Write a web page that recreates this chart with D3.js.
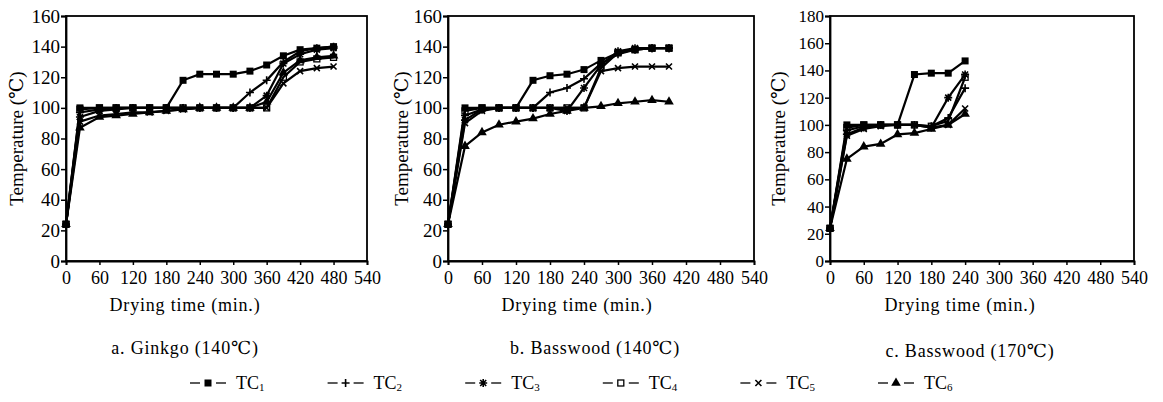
<!DOCTYPE html>
<html>
<head>
<meta charset="utf-8">
<script src="https://d3js.org/d3.v7.min.js"></script>
<style>
  body { margin: 0; background: #fff; }
  svg text { font-family: "Liberation Serif", "DejaVu Serif", serif; fill: #000; }
</style>
</head>
<body>
<script>
// drying times (min.) for each panel
var timesA = [0, 25, 60, 90, 120, 150, 180, 210, 240, 270, 300, 330, 360, 390, 420, 450, 480];
var timesB = [0, 30, 60, 90, 120, 150, 180, 210, 240, 270, 300, 330, 360, 390];
var timesC = [0, 30, 60, 90, 120, 150, 180, 210, 240];

var seriesNames = ["TC1", "TC2", "TC3", "TC4", "TC5", "TC6"];
var seriesMarks = ["square", "plus", "star", "open", "cross", "triangle"];

// temperatures, one row per thermocouple TC1..TC6
var ginkgo140 = [
  [24, 100, 100, 100, 100, 100, 100, 118, 122, 122, 122, 124, 128, 134, 138, 139, 140],
  [24, 97, 99, 100, 100, 100, 100, 100, 100, 100, 100, 110, 118, 130, 137, 139, 140],
  [24, 94, 98, 99, 100, 100, 100, 100, 100, 100, 100, 100, 108, 129, 135, 138, 139],
  [24, 99, 100, 100, 100, 100, 100, 100, 100, 100, 100, 100, 100, 120, 130, 132, 133],
  [24, 91, 95, 96, 97, 97, 98, 99, 100, 100, 100, 100, 100, 116, 124, 126, 127],
  [24, 87, 94, 95, 96, 97, 98, 99, 100, 100, 100, 100, 104, 123, 131, 133, 134]
];
var basswood140 = [
  [24, 100, 100, 100, 100, 118, 121, 122, 125, 131, 136, 138, 139, 139],
  [24, 95, 99, 100, 100, 100, 110, 113, 119, 129, 135, 138, 139, 139],
  [24, 92, 99, 100, 100, 100, 100, 98, 113, 128, 137, 139, 139, 139],
  [24, 98, 100, 100, 100, 100, 100, 100, 100, 126, 136, 138, 139, 139],
  [24, 90, 98, 100, 100, 100, 100, 100, 100, 124, 126, 127, 127, 127],
  [24, 75, 84, 89, 91, 93, 96, 98, 100, 101, 103, 104, 105, 104]
];
var basswood170 = [
  [24, 100, 100, 100, 100, 137, 138, 138, 147],
  [24, 96, 99, 100, 100, 100, 99, 105, 127],
  [24, 93, 98, 100, 100, 100, 98, 120, 137],
  [24, 98, 100, 100, 100, 100, 99, 103, 135],
  [24, 92, 97, 99, 100, 100, 98, 100, 112],
  [24, 75, 84, 86, 93, 94, 97, 100, 108]
];

var xTicks = [0, 60, 120, 180, 240, 300, 360, 420, 480, 540];
var yTicks160 = [0, 20, 40, 60, 80, 100, 120, 140, 160];
var yTicks180 = [0, 20, 40, 60, 80, 100, 120, 140, 160, 180];

var captions = ["a. Ginkgo (140\u2103)", "b. Basswood (140\u2103)", "c. Basswood (170\u2103)"];

var panels = [
  { left: 66, width: 301, times: timesA, temps: ginkgo140, yMax: 160, yTicks: yTicks160, yFont: 19, labX: 16, capX: 185, capY: 354, dtX: 185 },
  { left: 448, width: 306, times: timesB, temps: basswood140, yMax: 160, yTicks: yTicks160, yFont: 19, labX: 401, capX: 595, capY: 354, dtX: 577 },
  { left: 830, width: 304, times: timesC, temps: basswood170, yMax: 180, yTicks: yTicks180, yFont: 17, labX: 778, capX: 970, capY: 357, dtX: 960 }
];

var plotTop = 16, plotBottom = 261;

var svg = d3.select("body").append("svg")
  .attr("width", 1163)
  .attr("height", 402);

function marker(g, kind, x, y) {
  var m = g.append("g").attr("transform", "translate(" + x + "," + y + ")");
  var s = 3.5;
  if (kind == "square") {
    m.append("rect").attr("x", -s).attr("y", -s).attr("width", 2 * s).attr("height", 2 * s).attr("fill", "#000");
  } else if (kind == "open") {
    m.append("rect").attr("x", -s + 0.5).attr("y", -s + 0.5).attr("width", 2 * s - 1).attr("height", 2 * s - 1)
      .attr("fill", "none").attr("stroke", "#000").attr("stroke-width", 1.3);
  } else if (kind == "triangle") {
    m.append("path").attr("d", d3.symbol(d3.symbolTriangle, 40)()).attr("fill", "#000");
  } else {
    var d = "";
    if (kind == "plus" || kind == "star") d += "M-4,0H4M0,-4V4";
    if (kind == "cross" || kind == "star") d += "M-3,-3L3,3M-3,3L3,-3";
    m.append("path").attr("d", d).attr("stroke", "#000").attr("stroke-width", 1.6).attr("fill", "none");
  }
}

panels.forEach(function (p, pi) {
  var x = d3.scaleLinear().domain([0, 540]).range([p.left, p.left + p.width]);
  var y = d3.scaleLinear().domain([0, p.yMax]).range([plotBottom, plotTop]);

  // frame
  svg.append("rect")
    .attr("x", p.left).attr("y", plotTop)
    .attr("width", p.width).attr("height", plotBottom - plotTop)
    .attr("fill", "none").attr("stroke", "#000").attr("stroke-width", 1.8);

  var ya = svg.append("g")
    .attr("transform", "translate(" + p.left + ",0)")
    .call(d3.axisLeft(y).tickValues(p.yTicks).tickSize(5).tickPadding(1));
  ya.select(".domain").attr("stroke-width", 1.8);
  ya.selectAll("line").attr("stroke-width", 1.5);
  ya.selectAll("text").style("font-size", p.yFont + "px").style("font-family", "'Liberation Serif', serif");

  var xa = svg.append("g")
    .attr("transform", "translate(0," + plotBottom + ")")
    .call(d3.axisBottom(x).tickValues(xTicks).tickSize(4).tickPadding(6));
  xa.select(".domain").attr("stroke-width", 1.8);
  xa.selectAll("line").attr("stroke-width", 1.5);
  xa.selectAll("text").style("font-size", "18px").style("font-family", "'Liberation Serif', serif");

  // series
  var line = d3.line()
    .x(function (d) { return x(d[0]); })
    .y(function (d) { return y(d[1]); });

  p.temps.forEach(function (row, si) {
    var pts = row.map(function (v, i) { return [p.times[i], v]; });
    svg.append("path")
      .datum(pts)
      .attr("d", line)
      .attr("fill", "none")
      .attr("stroke", "#000")
      .attr("stroke-width", 2.2);
    var mg = svg.append("g");
    pts.forEach(function (d) { marker(mg, seriesMarks[si], x(d[0]), y(d[1])); });
  });

  // axis titles
  svg.append("text")
    .attr("transform", "translate(" + p.labX + "," + ((plotTop + plotBottom) / 2) + ") rotate(-90)")
    .attr("text-anchor", "middle")
    .attr("dy", "0.35em")
    .style("font-size", "19px")
    .text("Temperature (\u2103)");

  svg.append("text")
    .attr("x", p.dtX)
    .attr("y", 311)
    .attr("text-anchor", "middle")
    .style("font-size", "18px")
    .style("letter-spacing", "0.8px")
    .text("Drying time (min.)");

  svg.append("text")
    .attr("x", p.capX)
    .attr("y", p.capY)
    .attr("text-anchor", "middle")
    .style("font-size", "18px")
    .style("letter-spacing", "0.8px")
    .text(captions[pi]);
});

// legend
var legend = svg.append("g");
seriesNames.forEach(function (name, i) {
  var x0 = 190 + i * 137.6, yl = 383;
  var g = legend.append("g");
  g.append("line").attr("x1", x0).attr("x2", x0 + 10).attr("y1", yl).attr("y2", yl).attr("stroke", "#000").attr("stroke-width", 1.3);
  g.append("line").attr("x1", x0 + 26).attr("x2", x0 + 36).attr("y1", yl).attr("y2", yl).attr("stroke", "#000").attr("stroke-width", 1.3);
  marker(g, seriesMarks[i], x0 + 18, yl);
  var t = g.append("text").attr("x", x0 + 46).attr("y", yl + 6).style("font-size", "18px");
  t.append("tspan").text(name.slice(0, 2));
  t.append("tspan").attr("dy", 2).style("font-size", "11px").text(name.slice(2));
});
</script>
</body>
</html>
